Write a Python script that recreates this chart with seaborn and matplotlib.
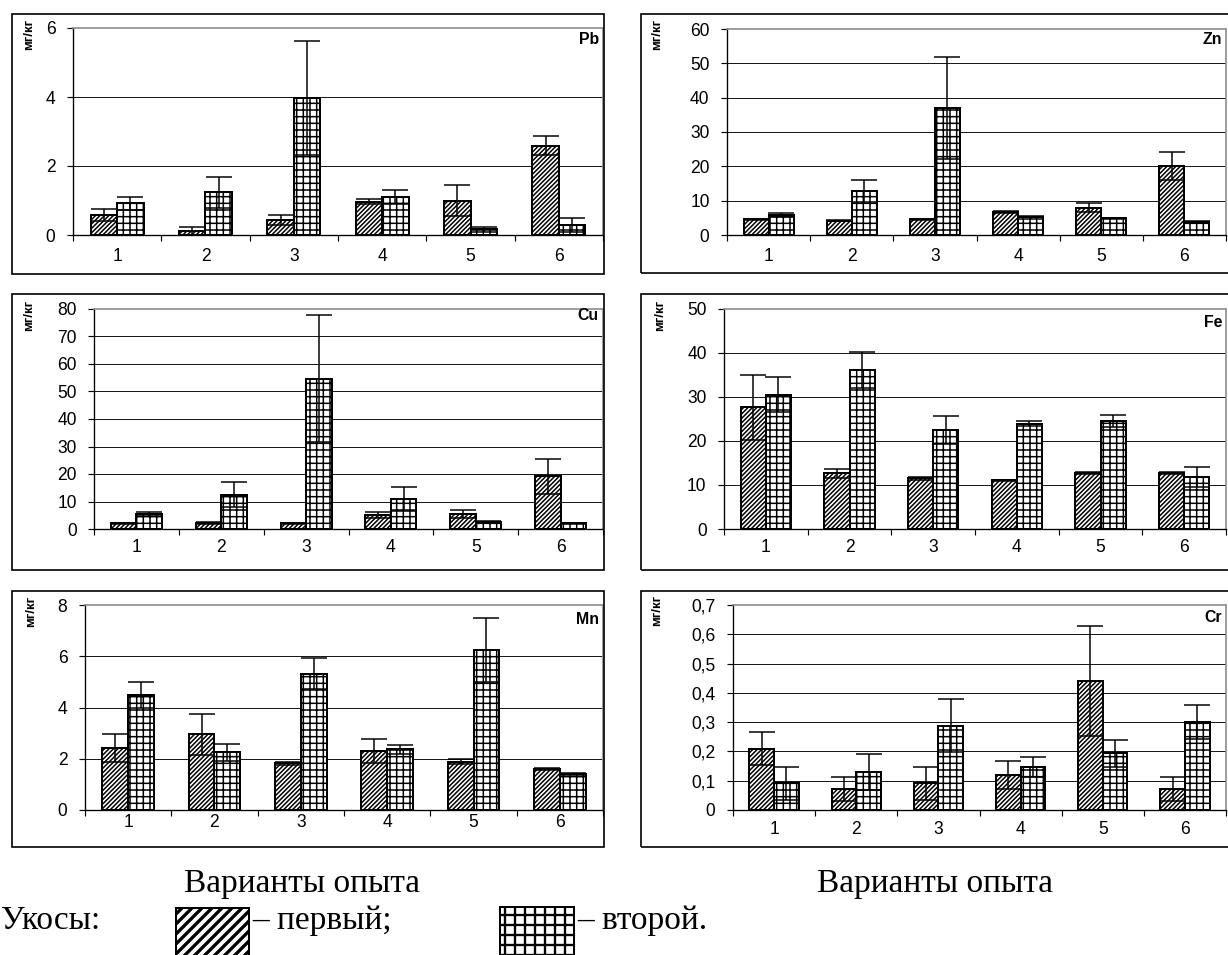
import matplotlib
matplotlib.use("Agg")
import matplotlib.pyplot as plt
from matplotlib.patches import Rectangle
from matplotlib.ticker import FuncFormatter
import numpy as np
import pandas as pd
import seaborn as sns

# ---- data -------------------------------------------------------------
variants = ["1", "2", "3", "4", "5", "6"]
cuts = ["первый", "второй"]

pb_first = [0.58, 0.12, 0.43, 0.96, 1.00, 2.59]
pb_first_err = [0.17, 0.12, 0.15, 0.07, 0.45, 0.28]
pb_second = [0.92, 1.24, 3.97, 1.11, 0.17, 0.29]
pb_second_err = [0.19, 0.45, 1.66, 0.20, 0.07, 0.21]
pb_ticks = [0, 2, 4, 6]

zn_first = [4.6, 4.2, 4.6, 6.7, 7.9, 20.1]
zn_first_err = [0.1, 0.1, 0.1, 0.2, 1.3, 4.1]
zn_second = [5.8, 12.8, 37.0, 5.1, 4.9, 3.9]
zn_second_err = [0.5, 3.2, 14.8, 0.4, 0.1, 0.3]
zn_ticks = [0, 10, 20, 30, 40, 50, 60]

cu_first = [2.1, 2.2, 2.1, 5.0, 5.5, 19.2]
cu_first_err = [0.1, 0.5, 0.1, 1.1, 1.5, 6.4]
cu_second = [5.5, 12.5, 54.7, 10.9, 2.7, 2.1]
cu_second_err = [0.6, 4.5, 23.1, 4.5, 0.1, 0.1]
cu_ticks = [0, 10, 20, 30, 40, 50, 60, 70, 80]

fe_first = [27.7, 12.7, 11.5, 11.1, 12.7, 12.7]
fe_first_err = [7.4, 1.0, 0.3, 0.1, 0.3, 0.3]
fe_second = [30.5, 36.2, 22.5, 23.9, 24.6, 11.8]
fe_second_err = [4.0, 4.1, 3.1, 0.6, 1.4, 2.2]
fe_ticks = [0, 10, 20, 30, 40, 50]

mn_first = [2.41, 2.96, 1.82, 2.31, 1.89, 1.60]
mn_first_err = [0.55, 0.80, 0.05, 0.48, 0.10, 0.05]
mn_second = [4.49, 2.25, 5.32, 2.37, 6.24, 1.39]
mn_second_err = [0.50, 0.34, 0.60, 0.17, 1.25, 0.04]
mn_ticks = [0, 2, 4, 6, 8]

cr_first = [0.210, 0.072, 0.091, 0.120, 0.440, 0.072]
cr_first_err = [0.057, 0.040, 0.057, 0.048, 0.188, 0.040]
cr_second = [0.091, 0.130, 0.288, 0.148, 0.193, 0.300]
cr_second_err = [0.057, 0.062, 0.090, 0.034, 0.046, 0.058]
cr_ticks = [0, 0.1, 0.2, 0.3, 0.4, 0.5, 0.6, 0.7]

# ---- figure setup -----------------------------------------------------
W, H, DPI = 1228, 955, 120
sns.set_theme(style="white")
plt.rcParams["font.family"] = ["Liberation Sans", "DejaVu Sans"]
plt.rcParams["hatch.linewidth"] = 0.9
plt.rcParams["hatch.color"] = "black"

fig = plt.figure(figsize=(W / DPI, H / DPI), dpi=DPI)
fig.patch.set_facecolor("white")


def fx(x):
    return x / W


def fy(y):
    return 1 - y / H


def px_rect(l, t, r, b):
    return [fx(l), fy(b), (r - l) / W, (b - t) / H]


def comma_fmt(v, _pos):
    s = f"{v:.1f}".rstrip("0").rstrip(".")
    return s.replace(".", ",")


def draw_frame(l, t, r, b):
    fig.add_artist(Rectangle((fx(l), fy(b)), (r - l) / W, (b - t) / H,
                             transform=fig.transFigure, fill=False,
                             edgecolor="black", linewidth=1.0, zorder=5))


def draw_panel(rect, frame, name, first, first_err, second, second_err,
               ticks, xpad, name_y, unit_xy):
    ax = fig.add_axes(px_rect(*rect))
    df = pd.DataFrame({
        "variant": variants * 2,
        "cut": [cuts[0]] * len(variants) + [cuts[1]] * len(variants),
        "value": list(first) + list(second),
    })
    sns.barplot(data=df, x="variant", y="value", hue="cut",
                order=variants, hue_order=cuts,
                palette=["white", "white"], width=0.6, errorbar=None,
                edgecolor="black", linewidth=1.2, legend=False,
                ax=ax, zorder=2)
    hatches = ["/" * 9, "+++"]
    for cont, hatch, vals, errs in zip(ax.containers, hatches,
                                       [first, second],
                                       [first_err, second_err]):
        xs = []
        for bar in cont:
            bar.set_hatch(hatch)
            bar.set_facecolor("white")
            bar.set_edgecolor("black")
            xs.append(bar.get_x() + bar.get_width() / 2)
        ax.errorbar(xs, vals, yerr=errs, fmt="none", ecolor="black",
                    elinewidth=0.9, capsize=8, capthick=0.9, zorder=3)

    ax.set_ylim(ticks[0], ticks[-1])
    ax.set_yticks(ticks)
    ax.yaxis.set_major_formatter(FuncFormatter(comma_fmt))
    ax.set_xlim(-0.5, len(variants) - 0.5)
    ax.set_xticks(range(len(variants)))
    ax.set_xticklabels(variants)
    ax.set_xticks(np.arange(-0.5, len(variants), 1.0), minor=True)
    ax.set_xlabel("")
    ax.set_ylabel("")

    ax.tick_params(axis="y", which="major", direction="out", length=3.5,
                   width=0.7, pad=7, labelsize=10.5, colors="black", left=True)
    ax.tick_params(axis="x", which="major", length=0, pad=xpad,
                   labelsize=10.5, colors="black")
    ax.tick_params(axis="x", which="minor", direction="out", length=3.5,
                   width=0.7, color="black", bottom=True)

    for t in ticks[1:-1]:
        ax.axhline(t, color="#1a1a1a", linewidth=0.6, zorder=0.5)

    for side in ("left", "bottom"):
        ax.spines[side].set_color("black")
        ax.spines[side].set_linewidth(0.8)
    for side in ("top", "right"):
        ax.spines[side].set_color("#8c8c8c")
        ax.spines[side].set_linewidth(1.0)
        ax.spines[side].set_visible(True)

    fig.text(fx(rect[2] - 4), fy(name_y), name, ha="right", va="center",
             fontsize=9.5, fontweight="bold", color="black")
    fig.text(fx(unit_xy[0]), fy(unit_xy[1]), "мг/кг", rotation=90,
             ha="center", va="top", fontsize=8, fontweight="bold",
             color="black")
    draw_frame(*frame)
    return ax


# ---- panels -----------------------------------------------------------
draw_panel((73, 28, 603, 235), (12, 14, 604, 274), "Pb",
           pb_first, pb_first_err, pb_second, pb_second_err,
           pb_ticks, 7.6, 40, (29, 19))
draw_panel((727, 29, 1226, 235), (641, 14, 1232, 273), "Zn",
           zn_first, zn_first_err, zn_second, zn_second_err,
           zn_ticks, 7.6, 40, (657, 19))
draw_panel((94, 309, 603, 529), (12, 294, 604, 570), "Cu",
           cu_first, cu_first_err, cu_second, cu_second_err,
           cu_ticks, 5.8, 315, (29, 300))
draw_panel((724, 309, 1226, 529), (641, 294, 1232, 570), "Fe",
           fe_first, fe_first_err, fe_second, fe_second_err,
           fe_ticks, 5.8, 322, (660, 300))
draw_panel((85, 605, 603, 810), (12, 591, 604, 847), "Mn",
           mn_first, mn_first_err, mn_second, mn_second_err,
           mn_ticks, 2.2, 619, (31, 596))
draw_panel((733, 605, 1226, 810), (641, 591, 1232, 847), "Cr",
           cr_first, cr_first_err, cr_second, cr_second_err,
           cr_ticks, 6.4, 617, (657, 595))

# ---- captions and legend ---------------------------------------------
serif = ["Liberation Serif", "DejaVu Serif"]
fs = 20
fig.text(fx(302), fy(892), "Варианты опыта", ha="center", va="baseline",
         fontsize=fs, family=serif, color="black")
fig.text(fx(935), fy(892), "Варианты опыта", ha="center", va="baseline",
         fontsize=fs, family=serif, color="black")
fig.text(fx(1), fy(929), "Укосы:", ha="left", va="baseline",
         fontsize=fs, family=serif, color="black")


def legend_box(l, t, r, b, hatch, hlw):
    with plt.rc_context({"hatch.linewidth": hlw}):
        box = Rectangle((fx(l), fy(b)), (r - l) / W, (b - t) / H,
                        transform=fig.transFigure, facecolor="white",
                        edgecolor="black", linewidth=1.2, hatch=hatch)
        if hasattr(box, "set_hatch_linewidth"):
            box.set_hatch_linewidth(hlw)
    fig.add_artist(box)


legend_box(176, 908, 249, 957, "////", 2.0)
fig.text(fx(252), fy(929), "– " + cuts[0] + ";", ha="left", va="baseline",
         fontsize=fs, family=serif, color="black")
legend_box(500, 907, 574, 957, "++", 1.4)
fig.text(fx(577), fy(929), "– " + cuts[1] + ".", ha="left", va="baseline",
         fontsize=fs, family=serif, color="black")

fig.savefig("out.png", dpi=DPI, facecolor="white")
